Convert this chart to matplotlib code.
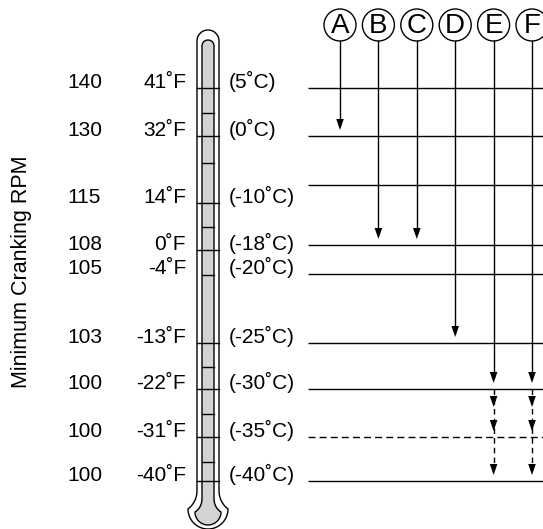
import numpy as np
import matplotlib.pyplot as plt

plt.rcParams["font.family"] = ["Liberation Sans", "DejaVu Sans"]

# chart content
rpm = ["140", "130", "115", "108", "105", "103", "100", "100", "100"]
temp_f = ["41˚F", "32˚F", "14˚F", "0˚F", "-4˚F", "-13˚F", "-22˚F", "-31˚F", "-40˚F"]
temp_c = ["(5˚C)", "(0˚C)", "(-10˚C)", "(-18˚C)", "(-20˚C)", "(-25˚C)",
          "(-30˚C)", "(-35˚C)", "(-40˚C)"]
dashed_rows = ["(-35˚C)"]

columns = ["A", "B", "C", "D", "E", "F"]
# row (°C label) where each column's solid arrow stops
stop_row = ["(0˚C)", "(-18˚C)", "(-18˚C)", "(-25˚C)", "(-30˚C)", "(-30˚C)"]
# columns that carry on as a dashed arrow, and where that ends
dashed_cols = ["E", "F"]
dashed_end = "(-40˚C)"

# layout (pixel coordinates, y downward)
W, H = 543, 529
label_y = [88, 136, 203, 250, 274, 343, 389, 437, 481]
line_y = [88, 136, 185, 245, 274, 343, 389, 437, 481]
therm_major = [88, 136, 203, 250, 343, 389, 437, 481]
therm_minor = [113, 163, 227, 275, 367, 414, 462]
col_x0, col_dx = 340, 38.4
circle_y, circle_r = 25, 16

fig = plt.figure(figsize=(W / 100, H / 100), dpi=100)
ax = fig.add_axes([0, 0, 1, 1])
ax.set_xlim(0, W)
ax.set_ylim(H, 0)
ax.axis("off")

fs = 15
for i in range(len(rpm)):
    ax.text(67, label_y[i], rpm[i], fontsize=fs, ha="left", va="baseline")
    ax.text(186, label_y[i], temp_f[i], fontsize=fs, ha="right", va="baseline")
    ax.text(229, label_y[i], temp_c[i], fontsize=fs, ha="left", va="baseline")
    ls = (0, (5, 3)) if temp_c[i] in dashed_rows else "-"
    ax.plot([308, W], [line_y[i], line_y[i]], color="black", lw=1.0, ls=ls,
            solid_capstyle="butt")

ax.text(22, 272, "Minimum Cranking RPM", fontsize=15.5, rotation=90,
        ha="center", va="center")


# thermometer outline
def arc(cx, cy, r, a0, a1, n=40):
    t = np.radians(np.linspace(a0, a1, n))
    return cx + r * np.cos(t), cy + r * np.sin(t)


def bulb(xl, xr, top_c, top_r, neck_y, bulb_c, bulb_r, cx=208):
    xs, ys = [], []
    # left side going up, top arc, right side down
    tx, ty = arc(cx, top_c, top_r, 180, 360)
    xs += [xl] + list(tx) + [xr]
    ys += [neck_y] + list(ty) + [neck_y]
    # right flare
    t = np.linspace(0, 1, 15)
    p0 = np.array([xr, neck_y])
    p1 = np.array([xr, bulb_c - bulb_r * 0.35])
    p2 = np.array([cx + bulb_r, bulb_c])
    q = ((1 - t) ** 2)[:, None] * p0 + (2 * (1 - t) * t)[:, None] * p1 + (t ** 2)[:, None] * p2
    xs += list(q[:, 0])
    ys += list(q[:, 1])
    bx, by = arc(cx, bulb_c, bulb_r, 0, 180)
    xs += list(bx)
    ys += list(by)
    p0 = np.array([cx - bulb_r, bulb_c])
    p1 = np.array([xl, bulb_c - bulb_r * 0.35])
    p2 = np.array([xl, neck_y])
    q = ((1 - t) ** 2)[:, None] * p0 + (2 * (1 - t) * t)[:, None] * p1 + (t ** 2)[:, None] * p2
    xs += list(q[:, 0])
    ys += list(q[:, 1])
    return xs, ys


ox, oy = bulb(197, 219, 41, 11, 490, 509, 20)
ax.fill(ox, oy, facecolor="white", edgecolor="black", lw=1.0, zorder=2)
ix, iy = bulb(202, 214, 46, 6, 498, 512, 13)
ax.fill(ix, iy, facecolor="#d3d3d3", edgecolor="black", lw=1.0, zorder=3)
for y in therm_major:
    ax.plot([197, 219], [y, y], color="black", lw=1.0, zorder=4)
for y in therm_minor:
    ax.plot([202, 214], [y, y], color="black", lw=1.0, zorder=4)


def head(x, tip):
    ax.fill([x - 3.8, x + 3.8, x], [tip - 11, tip - 11, tip],
            color="black", lw=0, zorder=6)


row_line = dict(zip(temp_c, line_y))
for j, name in enumerate(columns):
    x = col_x0 + j * col_dx
    circ = plt.Circle((x, circle_y), circle_r, facecolor="white",
                      edgecolor="black", lw=1.0, zorder=5)
    ax.add_patch(circ)
    ax.text(x, circle_y + 1, name, fontsize=20, ha="center", va="center",
            zorder=6)
    tip = row_line[stop_row[j]] - 6
    ax.plot([x, x], [circle_y + circle_r, tip - 6], color="black", lw=1.0,
            zorder=5)
    head(x, tip)
    if name in dashed_cols:
        start = row_line[stop_row[j]]
        end = row_line[dashed_end] - 6
        ax.plot([x, x], [start, end - 6], color="black", lw=1.0,
                ls=(0, (4, 3)), zorder=5)
        k0 = temp_c.index(stop_row[j])
        k1 = temp_c.index(dashed_end)
        head(x, start + 18)
        for k in range(k0 + 1, k1 + 1):
            head(x, line_y[k] - 6)

fig.savefig("out.png", dpi=100)
